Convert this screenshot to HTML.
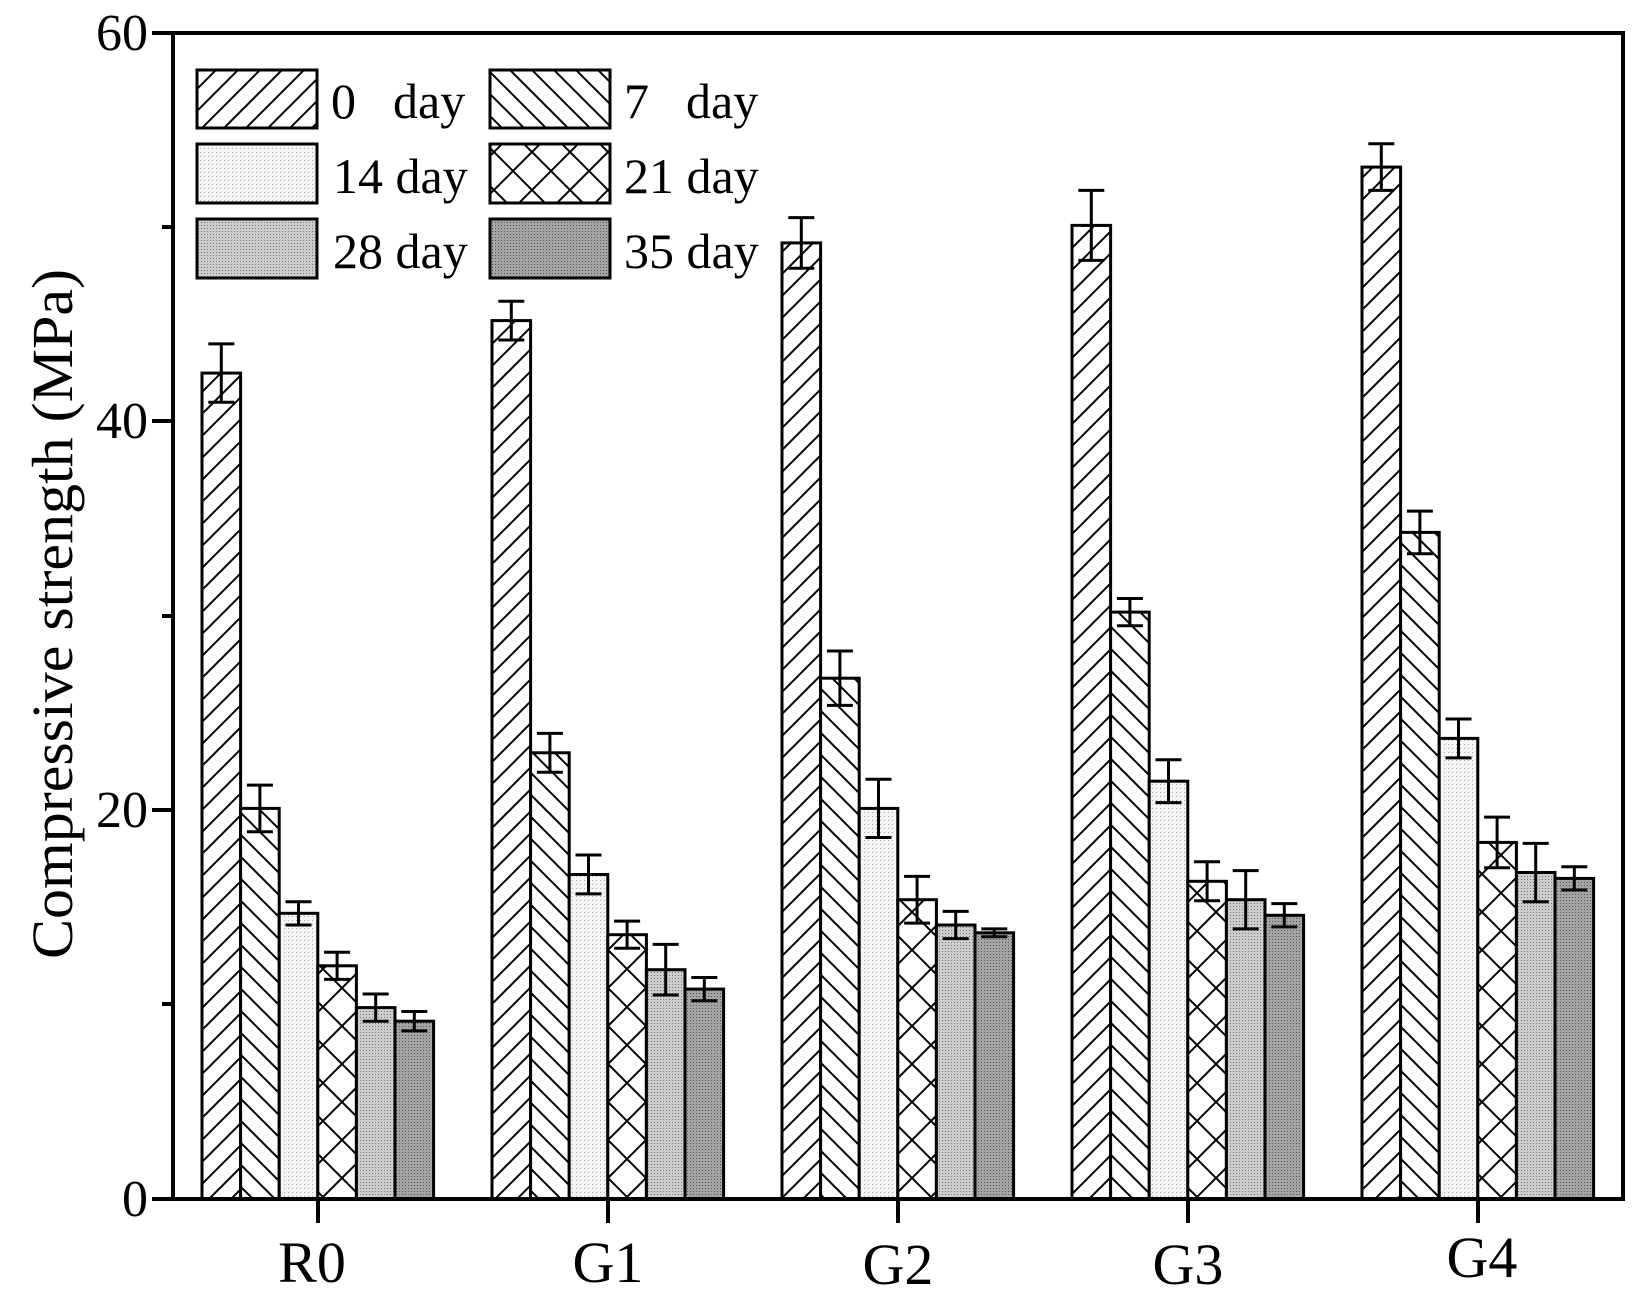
<!DOCTYPE html>
<html><head><meta charset="utf-8"><style>html,body{margin:0;padding:0;background:#fff}svg{display:block}</style></head>
<body>
<svg width="1650" height="1312" viewBox="0 0 1650 1312" xmlns="http://www.w3.org/2000/svg" font-family="'Liberation Serif', serif">
<defs>
<pattern id="p0" patternUnits="userSpaceOnUse" width="22" height="22">
<rect width="22" height="22" fill="#fff"/>
<path d="M-2,24 L24,-2 M-13,13 L13,-13 M9,35 L35,9" stroke="#000" stroke-width="2"/>
</pattern>
<pattern id="p7" patternUnits="userSpaceOnUse" width="22" height="22">
<rect width="22" height="22" fill="#fff"/>
<path d="M-2,-2 L24,24 M-13,9 L13,35 M9,-13 L35,13" stroke="#000" stroke-width="2"/>
</pattern>
<pattern id="p21" patternUnits="userSpaceOnUse" width="38" height="38">
<rect width="38" height="38" fill="#fff"/>
<path d="M-2,-2 L40,40 M-2,40 L40,-2" stroke="#000" stroke-width="2"/>
</pattern>
<pattern id="p14" patternUnits="userSpaceOnUse" width="4" height="4">
<rect width="4" height="4" fill="#f4f4f4"/><rect width="1" height="1" fill="#aaa"/>
</pattern>
<pattern id="p28" patternUnits="userSpaceOnUse" width="3" height="3">
<rect width="3" height="3" fill="#cdcdcd"/><rect width="1" height="1" fill="#777"/>
</pattern>
<pattern id="p35" patternUnits="userSpaceOnUse" width="3" height="3">
<rect width="3" height="3" fill="#a4a4a4"/><rect width="1" height="1" fill="#555"/>
</pattern>
</defs>
<g stroke="#000" stroke-width="3">
<!-- R0 -->
<rect x="202" y="373.1" width="38.6" height="825.9" fill="url(#p0)"/>
<rect x="240.6" y="808.4" width="38.6" height="390.6" fill="url(#p7)"/>
<rect x="279.2" y="913.3" width="38.6" height="285.7" fill="url(#p14)"/>
<rect x="317.8" y="965.8" width="38.6" height="233.2" fill="url(#p21)"/>
<rect x="356.4" y="1007.6" width="38.6" height="191.4" fill="url(#p28)"/>
<rect x="395" y="1021.2" width="38.6" height="177.8" fill="url(#p35)"/>
<!-- G1 -->
<rect x="492" y="320.6" width="38.6" height="878.4" fill="url(#p0)"/>
<rect x="530.6" y="752.8" width="38.6" height="446.2" fill="url(#p7)"/>
<rect x="569.2" y="874.5" width="38.6" height="324.5" fill="url(#p14)"/>
<rect x="607.8" y="934.7" width="38.6" height="264.3" fill="url(#p21)"/>
<rect x="646.4" y="969.7" width="38.6" height="229.3" fill="url(#p28)"/>
<rect x="685" y="989.1" width="38.6" height="209.9" fill="url(#p35)"/>
<!-- G2 -->
<rect x="782" y="242.9" width="38.6" height="956.1" fill="url(#p0)"/>
<rect x="820.6" y="678.2" width="38.6" height="520.8" fill="url(#p7)"/>
<rect x="859.2" y="808.4" width="38.6" height="390.6" fill="url(#p14)"/>
<rect x="897.8" y="899.7" width="38.6" height="299.3" fill="url(#p21)"/>
<rect x="936.4" y="925" width="38.6" height="274" fill="url(#p28)"/>
<rect x="975" y="932.8" width="38.6" height="266.2" fill="url(#p35)"/>
<!-- G3 -->
<rect x="1072" y="225.4" width="38.6" height="973.6" fill="url(#p0)"/>
<rect x="1110.6" y="612.1" width="38.6" height="586.9" fill="url(#p7)"/>
<rect x="1149.2" y="781.2" width="38.6" height="417.8" fill="url(#p14)"/>
<rect x="1187.8" y="881.3" width="38.6" height="317.7" fill="url(#p21)"/>
<rect x="1226.4" y="899.7" width="38.6" height="299.3" fill="url(#p28)"/>
<rect x="1265" y="915.3" width="38.6" height="283.7" fill="url(#p35)"/>
<!-- G4 -->
<rect x="1362" y="167.1" width="38.6" height="1031.9" fill="url(#p0)"/>
<rect x="1400.6" y="532.4" width="38.6" height="666.6" fill="url(#p7)"/>
<rect x="1439.2" y="738.4" width="38.6" height="460.6" fill="url(#p14)"/>
<rect x="1477.8" y="842.4" width="38.6" height="356.6" fill="url(#p21)"/>
<rect x="1516.4" y="872.5" width="38.6" height="326.5" fill="url(#p28)"/>
<rect x="1555" y="878.4" width="38.6" height="320.6" fill="url(#p35)"/>
</g>
<g stroke="#000" stroke-width="3" fill="none">
<path d="M221.3,343.9V402.2M208.3,343.9H234.3M208.3,402.2H234.3"/>
<path d="M259.9,785.1V831.7M246.9,785.1H272.9M246.9,831.7H272.9"/>
<path d="M298.5,901.7V925M285.5,901.7H311.5M285.5,925H311.5"/>
<path d="M337.1,952.2V979.4M324.1,952.2H350.1M324.1,979.4H350.1"/>
<path d="M375.7,994V1021.2M362.7,994H388.7M362.7,1021.2H388.7"/>
<path d="M414.3,1011.5V1030.9M401.3,1011.5H427.3M401.3,1030.9H427.3"/>

<path d="M511.3,301.2V340M498.3,301.2H524.3M498.3,340H524.3"/>
<path d="M549.9,733.4V772.3M536.9,733.4H562.9M536.9,772.3H562.9"/>
<path d="M588.5,855V893.9M575.5,855H601.5M575.5,893.9H601.5"/>
<path d="M627.1,921.1V948.3M614.1,921.1H640.1M614.1,948.3H640.1"/>
<path d="M665.7,944.4V995M652.7,944.4H678.7M652.7,995H678.7"/>
<path d="M704.3,977.5V1000.8M691.3,977.5H717.3M691.3,1000.8H717.3"/>

<path d="M801.3,217.6V268.2M788.3,217.6H814.3M788.3,268.2H814.3"/>
<path d="M839.9,651V705.4M826.9,651H852.9M826.9,705.4H852.9"/>
<path d="M878.5,779.2V837.5M865.5,779.2H891.5M865.5,837.5H891.5"/>
<path d="M917.1,876.4V923.1M904.1,876.4H930.1M904.1,923.1H930.1"/>
<path d="M955.7,911.4V938.6M942.7,911.4H968.7M942.7,938.6H968.7"/>
<path d="M994.3,928.9V936.7M981.3,928.9H1007.3M981.3,936.7H1007.3"/>

<path d="M1091.3,190.4V260.4M1078.3,190.4H1104.3M1078.3,260.4H1104.3"/>
<path d="M1129.9,598.5V625.7M1116.9,598.5H1142.9M1116.9,625.7H1142.9"/>
<path d="M1168.5,759.8V802.6M1155.5,759.8H1181.5M1155.5,802.6H1181.5"/>
<path d="M1207.1,861.8V900.7M1194.1,861.8H1220.1M1194.1,900.7H1220.1"/>
<path d="M1245.7,870.6V928.9M1232.7,870.6H1258.7M1232.7,928.9H1258.7"/>
<path d="M1284.3,903.6V926.9M1271.3,903.6H1297.3M1271.3,926.9H1297.3"/>

<path d="M1381.3,143.8V190.4M1368.3,143.8H1394.3M1368.3,190.4H1394.3"/>
<path d="M1419.9,511.1V553.8M1406.9,511.1H1432.9M1406.9,553.8H1432.9"/>
<path d="M1458.5,719V757.9M1445.5,719H1471.5M1445.5,757.9H1471.5"/>
<path d="M1497.1,817.1V867.7M1484.1,817.1H1510.1M1484.1,867.7H1510.1"/>
<path d="M1535.7,843.4V901.7M1522.7,843.4H1548.7M1522.7,901.7H1548.7"/>
<path d="M1574.3,866.7V890M1561.3,866.7H1587.3M1561.3,890H1587.3"/>
</g>
<!-- axes -->
<rect x="173" y="33" width="1450" height="1166" fill="none" stroke="#000" stroke-width="4"/>
<g stroke="#000" stroke-width="4">
<line x1="152" y1="33" x2="173" y2="33"/><line x1="152" y1="421" x2="173" y2="421"/><line x1="152" y1="810" x2="173" y2="810"/><line x1="152" y1="1199" x2="173" y2="1199"/>
<line x1="162" y1="227" x2="173" y2="227"/><line x1="162" y1="616" x2="173" y2="616"/><line x1="162" y1="1004" x2="173" y2="1004"/>
<line x1="318" y1="1199" x2="318" y2="1223"/><line x1="608" y1="1199" x2="608" y2="1223"/><line x1="898" y1="1199" x2="898" y2="1223"/><line x1="1188" y1="1199" x2="1188" y2="1223"/><line x1="1478" y1="1199" x2="1478" y2="1223"/>
</g>
<g font-size="52" text-anchor="end">
<text x="148" y="50">60</text><text x="148" y="438">40</text><text x="148" y="827">20</text><text x="148" y="1216">0</text>
</g>
<g font-size="58" text-anchor="middle">
<text x="312" y="1282">R0</text><text x="608" y="1282">G1</text><text x="898" y="1284">G2</text><text x="1188" y="1284">G3</text><text x="1482" y="1277">G4</text>
</g>
<text transform="translate(72,614) rotate(-90)" font-size="58" text-anchor="middle" textLength="690" lengthAdjust="spacingAndGlyphs">Compressive strength (MPa)</text>
<!-- legend -->
<g stroke="#000" stroke-width="3">
<rect x="197" y="70" width="120" height="58" fill="url(#p0)"/>
<rect x="490" y="70" width="120" height="58" fill="url(#p7)"/>
<rect x="197" y="144" width="120" height="59" fill="url(#p14)"/>
<rect x="490" y="144" width="120" height="59" fill="url(#p21)"/>
<rect x="197" y="219" width="120" height="59" fill="url(#p28)"/>
<rect x="490" y="219" width="120" height="59" fill="url(#p35)"/>
</g>
<g font-size="50">
<text x="331" y="118">0</text><text x="393" y="118">day</text>
<text x="624" y="118">7</text><text x="686" y="118">day</text>
<text x="333" y="193">14 day</text><text x="624" y="193">21 day</text>
<text x="333" y="268">28 day</text><text x="624" y="268">35 day</text>
</g>
</svg>
</body></html>
